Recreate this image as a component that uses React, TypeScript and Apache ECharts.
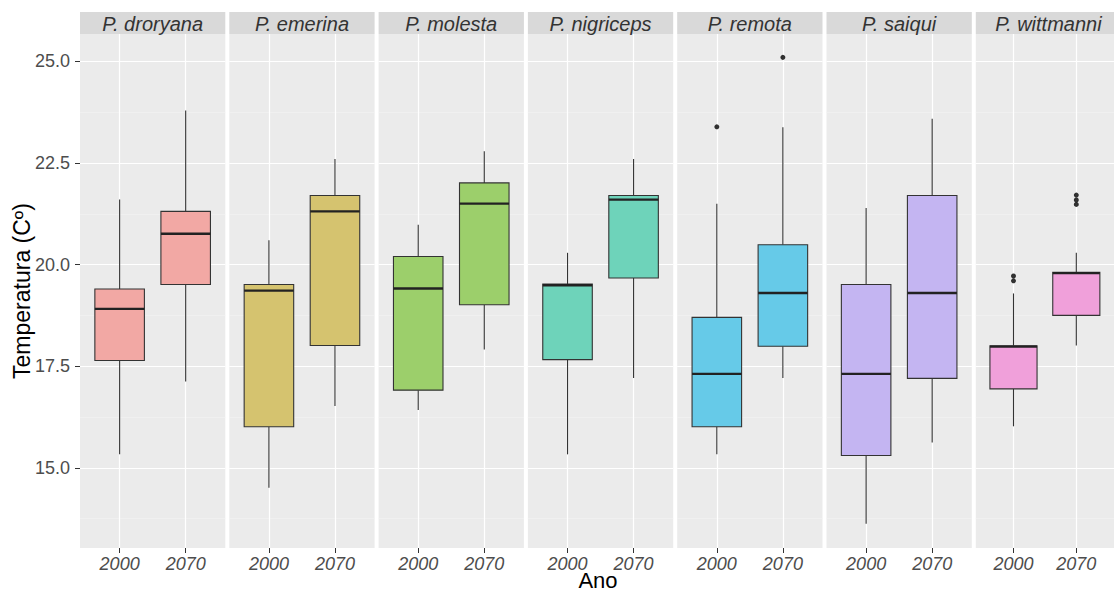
import React, { useEffect, useRef } from "react";
import * as echarts from "echarts";

const species = ["P. droryana", "P. emerina", "P. molesta", "P. nigriceps", "P. remota", "P. saiqui", "P. wittmanni"];
const years = ["2000", "2070"];
// [lower whisker, Q1, median, Q3, upper whisker]
const stats2000 = [
  [15.33, 17.64, 18.91, 19.40, 21.60],
  [14.51, 16.01, 19.36, 19.51, 20.60],
  [16.42, 16.91, 19.41, 20.20, 20.98],
  [15.33, 17.66, 19.49, 19.52, 20.29],
  [15.33, 16.01, 17.31, 18.70, 21.50],
  [13.62, 15.30, 17.31, 19.51, 21.39],
  [16.02, 16.94, 17.98, 18.00, 19.29],
];
const stats2070 = [
  [17.12, 19.51, 20.76, 21.31, 23.79],
  [16.52, 18.01, 21.31, 21.70, 22.60],
  [17.91, 19.01, 21.50, 22.01, 22.79],
  [17.21, 19.67, 21.60, 21.70, 22.60],
  [17.21, 17.99, 19.30, 20.49, 23.38],
  [15.62, 17.20, 19.30, 21.70, 23.59],
  [18.01, 18.75, 19.79, 19.81, 20.29],
];
// [species index, year index, value]
const outliers = [
  [4, 0, 23.39],
  [4, 1, 25.1],
  [6, 0, 19.72],
  [6, 0, 19.6],
  [6, 1, 21.71],
  [6, 1, 21.59],
  [6, 1, 21.48],
];
const yTicks = [15, 17.5, 20, 22.5, 25];
const yMinor = [13.75, 16.25, 18.75, 21.25, 23.75];
const fills = ["#F2A8A4", "#D5C36F", "#9CCF6B", "#6ED3BA", "#66CAE8", "#C4B5F2", "#F0A0DA"];

const FONT = "'Liberation Sans', Arial, Helvetica, sans-serif";

export default function App() {
  const ref = useRef<HTMLDivElement>(null);
  useEffect(() => {
    const chart = echarts.init(ref.current!, null, { renderer: "svg" });
    const panelLeft0 = 80;
    const panelStep = 149.3;
    const panelW = 145.3;
    const top = 34;
    const height = 514;
    const yMin = 13.025;
    const yMax = 25.675;

    const grids: any[] = [];
    const xAxes: any[] = [];
    const yAxes: any[] = [];
    const series: any[] = [];
    const graphics: any[] = [];

    species.forEach((sp, i) => {
      const left = panelLeft0 + i * panelStep;
      grids.push({
        left,
        top,
        width: panelW,
        height,
        show: true,
        backgroundColor: "#EBEBEB",
        borderWidth: 0,
        borderColor: "transparent",
      });
      xAxes.push({
        type: "value",
        gridIndex: i,
        min: 0.4,
        max: 2.6,
        axisLine: { show: false },
        splitLine: { show: false },
        axisTick: { show: true, customValues: [1, 2], length: 5, lineStyle: { color: "#333333", width: 1 } },
        axisLabel: {
          show: true,
          customValues: [1, 2],
          formatter: (v: number) => years[Math.round(v) - 1],
          fontStyle: "italic",
          fontSize: 18,
          color: "#4D4D4D",
          fontFamily: FONT,
          margin: 7,
        },
      });
      yAxes.push({
        type: "value",
        gridIndex: i,
        min: yMin,
        max: yMax,
        axisLine: { show: false },
        splitLine: { show: false },
        axisTick: {
          show: i === 0,
          customValues: yTicks,
          length: 5,
          lineStyle: { color: "#333333", width: 1 },
        },
        axisLabel: {
          show: i === 0,
          customValues: yTicks,
          formatter: (v: number) => v.toFixed(1),
          fontSize: 18,
          color: "#4D4D4D",
          fontFamily: FONT,
          margin: 10,
        },
      });

      const boxData = [stats2000[i], stats2070[i]].map((s, j) => [j + 1, ...s]);
      series.push({
        type: "custom",
        xAxisIndex: i,
        yAxisIndex: i,
        z: 3,
        encode: { x: 0, y: [1, 2, 3, 4, 5] },
        data: boxData,
        renderItem: (params: any, api: any) => {
          const x = api.value(0);
          const pLo = api.coord([x, api.value(1)]);
          const pHi = api.coord([x, api.value(5)]);
          const pQ1 = api.coord([x, api.value(2)]);
          const pQ3 = api.coord([x, api.value(4)]);
          const l = api.coord([x - 0.375, api.value(2)]);
          const r = api.coord([x + 0.375, api.value(4)]);
          const pMed = api.coord([x, api.value(3)]);
          const stroke = "#333333";
          return {
            type: "group",
            children: [
              { type: "line", shape: { x1: pQ3[0], y1: pQ3[1], x2: pHi[0], y2: pHi[1] }, style: { stroke, lineWidth: 1.1 } },
              { type: "line", shape: { x1: pLo[0], y1: pLo[1], x2: pQ1[0], y2: pQ1[1] }, style: { stroke, lineWidth: 1.1 } },
              { type: "rect", shape: { x: l[0], y: r[1], width: r[0] - l[0], height: l[1] - r[1] }, style: { fill: fills[i], stroke, lineWidth: 1.1 } },
              { type: "line", shape: { x1: l[0], y1: pMed[1], x2: r[0], y2: pMed[1] }, style: { stroke: "#222222", lineWidth: 2.4 } },
            ],
          };
        },
        markLine: {
          silent: true,
          z: 1,
          symbol: ["none", "none"],
          label: { show: false },
          emphasis: { disabled: true },
          data: [
            ...yMinor.map((v) => ({ yAxis: v, lineStyle: { color: "#F4F4F4", width: 0.6, type: "solid" } })),
            ...yTicks.map((v) => ({ yAxis: v, lineStyle: { color: "#FFFFFF", width: 1.2, type: "solid" } })),
            ...[1, 2].map((v) => ({ xAxis: v, lineStyle: { color: "#FFFFFF", width: 1.2, type: "solid" } })),
          ],
        },
      });
      series.push({
        type: "scatter",
        xAxisIndex: i,
        yAxisIndex: i,
        z: 4,
        symbolSize: 5,
        itemStyle: { color: "#000000" },
        data: outliers.filter((o) => o[0] === i).map((o) => [o[1] + 1, o[2]]),
      });

      graphics.push({ type: "rect", shape: { x: left, y: 12, width: panelW, height: top - 12 }, style: { fill: "#D9D9D9" } });
      graphics.push({
        type: "text",
        x: left + panelW / 2,
        y: (12 + top) / 2 + 1,
        style: { text: sp, fontSize: 20, fontStyle: "italic", fontFamily: FONT, fill: "#333333", align: "center", verticalAlign: "middle" },
      });
    });

    graphics.push({
      type: "text",
      x: 22,
      y: top + height / 2,
      rotation: Math.PI / 2,
      style: { text: "Temperatura (Cº)", fontSize: 23, fontFamily: FONT, fill: "#000000", align: "center", verticalAlign: "middle" },
    });
    graphics.push({
      type: "text",
      x: 598,
      y: 580,
      style: { text: "Ano", fontSize: 22, fontFamily: FONT, fill: "#000000", align: "center", verticalAlign: "middle" },
    });

    chart.setOption({
      animation: false,
      backgroundColor: "#FFFFFF",
      grid: grids,
      xAxis: xAxes,
      yAxis: yAxes,
      series,
      graphic: graphics,
    });
    return () => chart.dispose();
  }, []);
  return <div ref={ref} style={{ position: "absolute", left: 0, top: 0, width: 1114, height: 592 }} />;
}
